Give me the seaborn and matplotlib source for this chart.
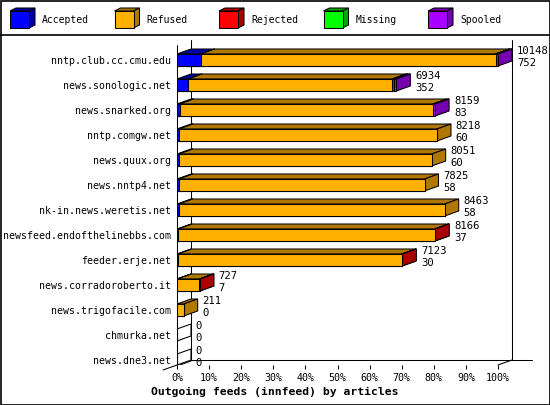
import numpy as np
import matplotlib
matplotlib.use("Agg")
import matplotlib.pyplot as plt
import seaborn as sns
from matplotlib.patches import Polygon, Rectangle

# innfeed outgoing feeds, article counts per peer
feeds = ["nntp.club.cc.cmu.edu", "news.sonologic.net", "news.snarked.org",
         "nntp.comgw.net", "news.quux.org", "news.nntp4.net",
         "nk-in.news.weretis.net", "newsfeed.endofthelinebbs.com",
         "feeder.erje.net", "news.corradoroberto.it", "news.trigofacile.com",
         "chmurka.net", "news.dne3.net"]
offered = [10148, 6934, 8159, 8218, 8051, 7825, 8463, 8166, 7123, 727, 211, 0, 0]
accepted = [752, 352, 83, 60, 60, 58, 58, 37, 30, 7, 0, 0, 0]
refused = [9320, 6452, 8011, 8158, 7991, 7767, 8405, 8109, 7078, 700, 211, 0, 0]
rejected = [6, 60, 0, 0, 0, 0, 0, 20, 15, 20, 0, 0, 0]
missing = [0, 0, 0, 0, 0, 0, 0, 0, 0, 0, 0, 0, 0]
spooled = [70, 70, 65, 0, 0, 0, 0, 0, 0, 0, 0, 0, 0]

series = ["Accepted", "Refused", "Rejected", "Missing", "Spooled"]
front_colors = ["#0000ff", "#ffb000", "#ff0000", "#00ff00", "#aa00ff"]
side_colors = ["#0000aa", "#b07800", "#aa0000", "#00aa00", "#7400b0"]

sns.set_theme(style="white", rc={"text.color": "black", "xtick.color": "black",
                                 "ytick.color": "black", "axes.labelcolor": "black"})
plt.rcParams["font.family"] = ["DejaVu Sans Mono", "DejaVu Sans"]

fig = plt.figure(figsize=(5.5, 4.05), dpi=100)
ax = fig.add_axes([177 / 550, 40 / 405, 355 / 550, 330 / 405])

counts = np.array([accepted, refused, rejected, missing, spooled], dtype=float)
scale = 100.0 / max(offered)   # longest feed = 100%
pct = counts * scale
cum = np.cumsum(pct, axis=0)

h = 0.48          # bar thickness in rows
dx = 14 / 3.21    # 3d depth, in % units
dy = 0.2          # 3d depth, in rows
lw = 0.75

# front faces - cumulative bars, longest first so the shorter ones sit on top
for k in range(4, -1, -1):
    sns.barplot(x=cum[k], y=feeds, orient="h", color=front_colors[k], saturation=1,
                edgecolor="black", linewidth=lw, width=h, errorbar=None, ax=ax, zorder=4)

# top and side faces of each segment
for i in range(len(feeds)):
    top = i - h / 2
    bot = i + h / 2
    if offered[i] == 0:
        ax.add_patch(Polygon([(0, top), (0, bot), (dx, bot - dy), (dx, top - dy)],
                             fill=False, edgecolor="black", lw=lw, zorder=2))
        continue
    left = 0
    for k in range(5):
        right = cum[k, i]
        if pct[k, i] > 0:
            ax.add_patch(Polygon([(left, top), (right, top), (right + dx, top - dy), (left + dx, top - dy)],
                                 facecolor=side_colors[k], edgecolor="black", lw=lw, zorder=2))
            ax.add_patch(Polygon([(right, top), (right, bot), (right + dx, bot - dy), (right + dx, top - dy)],
                                 facecolor=side_colors[k], edgecolor="black", lw=lw, zorder=2))
        left = right

# totals and accepted counts next to each bar
for i in range(len(feeds)):
    xt = offered[i] * scale + dx + 1.5
    ax.text(xt, i - 0.36, str(offered[i]), ha="left", va="center", fontsize=7.6, clip_on=False)
    ax.text(xt, i + 0.12, str(accepted[i]), ha="left", va="center", fontsize=7.6, clip_on=False)

# 3d frame: back wall, front axis and depth lines
xmax = 355 / 3.21
ymax = 12.2
frame = dict(color="black", lw=lw, clip_on=False, zorder=1)
ax.plot([dx, dx], [-0.8, ymax - dy], **frame)
ax.plot([100 + dx, 100 + dx], [-0.8, ymax - dy], **frame)
ax.plot([dx, xmax], [ymax - dy, ymax - dy], **frame)
ax.plot([0, 0], [-0.6, ymax], **frame)
ax.plot([-dx, dx], [ymax + dy, ymax - dy], **frame)
ax.plot([100, 100 + dx], [ymax, ymax - dy], **frame)

ax.set_xlim(0, xmax)
ax.set_ylim(ymax, -1.0)
sns.despine(ax=ax, left=True, bottom=True)
ax.set_xticks(np.arange(0, 101, 10))
ax.set_xticklabels([f"{v}%" for v in range(0, 101, 10)])
ax.tick_params(axis="x", bottom=True, length=3, width=lw, pad=3, labelsize=7.2, direction="out")
ax.tick_params(axis="y", left=False, length=0, pad=4, labelsize=7.1)
ax.set_xlabel("")
ax.set_ylabel("")
ax.patch.set_visible(False)

fig.text(0.5, 1 - 392 / 405, "Outgoing feeds (innfeed) by articles",
         ha="center", va="center", fontsize=8.2, fontweight="bold")

# legend strip and outer border, in pixel coordinates
ov = fig.add_axes([0, 0, 1, 1])
ov.set_xlim(0, 550)
ov.set_ylim(405, 0)
ov.axis("off")
ov.patch.set_visible(False)
ov.add_patch(Rectangle((0.5, 0.5), 549, 404, fill=False, edgecolor="black", lw=1.2))
ov.plot([0, 550], [35, 35], color="black", lw=1.2)
for j, name in enumerate(series):
    x0 = 10 + 104.5 * j
    ov.add_patch(Polygon([(x0, 11), (x0 + 19, 11), (x0 + 25, 8), (x0 + 6, 8)],
                         facecolor=side_colors[j], edgecolor="black", lw=lw))
    ov.add_patch(Polygon([(x0 + 19, 11), (x0 + 19, 28), (x0 + 25, 25), (x0 + 25, 8)],
                         facecolor=side_colors[j], edgecolor="black", lw=lw))
    ov.add_patch(Rectangle((x0, 11), 19, 17, facecolor=front_colors[j], edgecolor="black", lw=lw))
    ov.text(x0 + 32, 20, name, ha="left", va="center", fontsize=7)

fig.savefig("out.png", dpi=100, facecolor="white")
